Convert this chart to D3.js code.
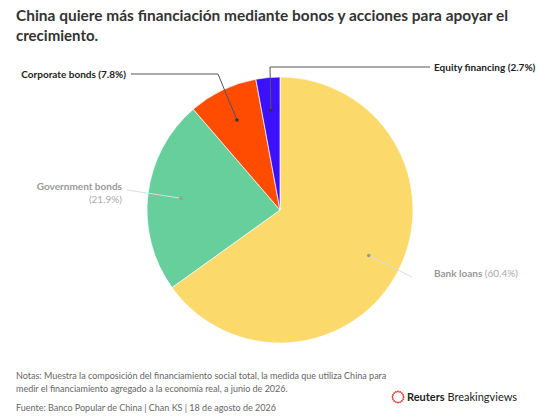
<!DOCTYPE html>
<html><head><meta charset="utf-8">
<script src="https://cdn.jsdelivr.net/npm/d3@7"></script>
<style>
body{margin:0;background:#fff;font-family:Lato,"Noto Sans",sans-serif}
</style></head><body>
<svg id="chart" width="558" height="417"></svg>
<script>
// values
var categories = ["Bank loans", "Government bonds", "Corporate bonds", "Equity financing"];
var shares = [60.4, 21.9, 7.8, 2.7];
var colors = ["#fbd96a", "#67cf9c", "#ff4c00", "#3a10ff"];
var highlighted = [false, false, true, true];

var svg = d3.select("#chart");
var cx = 280, cy = 210, r = 133;

svg.append("text").attr("x", 16).attr("y", 21).attr("font-size", 15).attr("font-weight", 700)
  .attr("fill", "#333").attr("textLength", 492).attr("lengthAdjust", "spacingAndGlyphs")
  .text("China quiere más financiación mediante bonos y acciones para apoyar el");
svg.append("text").attr("x", 16).attr("y", 41).attr("font-size", 15).attr("font-weight", 700)
  .attr("fill", "#333").text("crecimiento.");

var pie = d3.pie().sort(null).value(function (d) { return d; });
var arcs = pie(shares);
var arc = d3.arc().innerRadius(0).outerRadius(r);
var mid = d3.arc().innerRadius(r * 0.75).outerRadius(r * 0.75);

var g = svg.append("g").attr("transform", "translate(" + cx + "," + cy + ")");
g.selectAll("path").data(arcs).enter().append("path")
  .attr("d", arc)
  .attr("fill", function (d, i) { return colors[i]; })
  .attr("stroke", "#fff").attr("stroke-width", 0.7);

// label anchors: text position and elbow points of the leader line
var labelPos = [
  {x: 434, y: 277, anchor: "start", path: [[412, 277]]},
  {x: 122, y: 193, anchor: "end", path: [[127, 190]]},
  {x: 126, y: 78, anchor: "end", path: [[131, 74], [218, 74]]},
  {x: 434, y: 71, anchor: "start", path: [[430, 67], [270, 67]]}
];

arcs.forEach(function (d, i) {
  var c = mid.centroid(d);
  var p = [cx + c[0], cy + c[1]];
  var lp = labelPos[i];
  var pts = lp.path.concat([p]);
  svg.append("path").attr("fill", "none").attr("stroke", highlighted[i] ? "#555" : "#ddd")
    .attr("stroke-width", 1).attr("d", d3.line()(pts));
  svg.append("circle").attr("cx", p[0]).attr("cy", p[1]).attr("r", 1.8)
    .attr("fill", highlighted[i] ? "#333" : "#999");
  var pct = "(" + shares[i].toFixed(1) + "%)";
  var fill = highlighted[i] ? "#222" : "#999";
  if (i === 1) {
    svg.append("text").attr("x", lp.x).attr("y", lp.y - 3).attr("text-anchor", "end")
      .attr("font-size", 10).attr("font-weight", 700).attr("fill", fill).text(categories[i]);
    svg.append("text").attr("x", lp.x).attr("y", lp.y + 10).attr("text-anchor", "end")
      .attr("font-size", 10).attr("fill", "#aaa").text(pct);
  } else {
    var t = svg.append("text").attr("x", lp.x).attr("y", lp.y).attr("text-anchor", lp.anchor)
      .attr("font-size", 10).attr("fill", fill);
    t.append("tspan").attr("font-weight", 700).text(categories[i] + " ");
    t.append("tspan").attr("font-weight", highlighted[i] ? 700 : 400)
      .attr("fill", highlighted[i] ? fill : "#aaa").text(pct);
  }
});

var foot = [
  "Notas: Muestra la composición del financiamiento social total, la medida que utiliza China para",
  "medir el financiamiento agregado a la economía real, a junio de 2026."
];
foot.forEach(function (s, i) {
  svg.append("text").attr("x", 16).attr("y", 379 + i * 12.5).attr("font-size", 9)
    .attr("fill", "#666").text(s);
});
svg.append("text").attr("x", 16).attr("y", 411).attr("font-size", 9).attr("fill", "#666")
  .text("Fuente: Banco Popular de China | Chan KS | 18 de agosto de 2026");

// logo
var lg = svg.append("g").attr("transform", "translate(398,397)");
d3.range(16).forEach(function (k) {
  var a = k / 16 * 2 * Math.PI;
  lg.append("circle").attr("cx", Math.cos(a) * 5.5).attr("cy", Math.sin(a) * 5.5)
    .attr("r", 0.9).attr("fill", "#e8221c");
});
var lt = svg.append("text").attr("x", 407).attr("y", 401).attr("font-size", 11).attr("fill", "#222");
lt.append("tspan").attr("font-weight", 700).text("Reuters");
lt.append("tspan").text(" Breakingviews");
</script>
</body></html>
